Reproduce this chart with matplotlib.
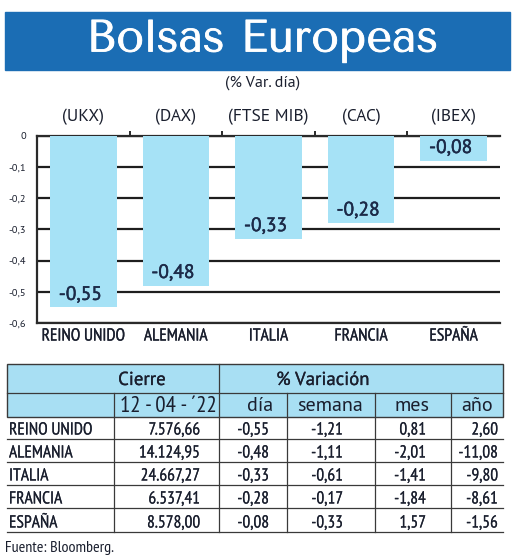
import matplotlib
matplotlib.use("Agg")
import matplotlib.pyplot as plt
from matplotlib.patches import Rectangle
import matplotlib.patheffects as pe

# ---------------- data ----------------
title = "Bolsas Europeas"
subtitle = "(% Var. día)"
countries = ["REINO UNIDO", "ALEMANIA", "ITALIA", "FRANCIA", "ESPAÑA"]
indices = ["(UKX)", "(DAX)", "(FTSE MIB)", "(CAC)", "(IBEX)"]
var_dia = [-0.55, -0.48, -0.33, -0.28, -0.08]
yticks = [0, -0.1, -0.2, -0.3, -0.4, -0.5, -0.6]
ytick_labels = ["0", "-0,1", "-0,2", "-0,3", "-0,4", "-0,5", "-0,6"]

cierre = ["7.576,66", "14.124,95", "24.667,27", "6.537,41", "8.578,00"]
dia = ["-0,55", "-0,48", "-0,33", "-0,28", "-0,08"]
semana = ["-1,21", "-1,11", "-0,61", "-0,17", "-0,33"]
mes = ["0,81", "-2,01", "-1,41", "-1,84", "1,57"]
anio = ["2,60", "-11,08", "-9,80", "-8,61", "-1,56"]
header1 = ["Cierre", "% Variación"]
header2 = ["12 - 04 - ´22", "día", "semana", "mes", "año"]
source = "Fuente: Bloomberg."

# ---------------- style ----------------
BAR = "#a6e2f6"
HEAD = "#a8dff3"
BANNER = "#1b6db4"
TXT = "#1a1f2e"
NAVY = "#1c2a48"
NARROW = ["PT Sans Narrow", "DejaVu Sans"]
SANS = ["PT Sans", "DejaVu Sans"]
TITLEF = ["Tenor Sans", "DejaVu Sans"]


def thick(w, c):
    return [pe.withStroke(linewidth=w, foreground=c)]


W, H = 520, 559
fig = plt.figure(figsize=(W / 100, H / 100), dpi=100)
fig.patch.set_facecolor("white")

# overlay in pixel coordinates
bg = fig.add_axes([0, 0, 1, 1])
bg.set_xlim(0, W)
bg.set_ylim(H, 0)
bg.axis("off")

bg.add_patch(Rectangle((5, 12), 505, 58, color=BANNER, zorder=1))
bg.text(262, 41, title, color="white", fontsize=32.5, family=TITLEF,
        ha="center", va="center", zorder=2, path_effects=thick(0.6, "white"))
bg.text(263, 83, subtitle, color=TXT, fontsize=11.5, family=SANS, ha="center", va="center")

# ---------------- bar chart ----------------
ax = fig.add_axes([37 / W, 1 - 323 / H, 463 / W, (323 - 135.5) / H])
x = list(range(len(countries)))
ax.bar(x, var_dia, width=0.72, color=BAR, zorder=3)
ax.set_xlim(-0.5, len(countries) - 0.5)
ax.set_ylim(-0.6, 0)
ax.set_yticks(yticks)
ax.set_yticklabels(ytick_labels, fontsize=7.5, family=SANS, color=TXT)
ax.yaxis.grid(True, color="#1e1e1e", lw=1.6)
ax.set_axisbelow(True)
ax.tick_params(axis="y", length=0, pad=8)
ax.set_xticks(x)
ax.set_xticklabels(countries, fontsize=12.5, family=NARROW, color=TXT)
for t in ax.get_xticklabels():
    t.set_path_effects(thick(0.2, TXT))
ax.tick_params(axis="x", length=0, pad=4)
for s in ["left", "bottom", "top"]:
    ax.spines[s].set_color("#2a2a2a")
    ax.spines[s].set_linewidth(1.6)
ax.spines["right"].set_visible(False)

top = ax.secondary_xaxis("top")
top.set_xticks([i + 0.5 for i in x[:-1]])
top.set_xticklabels([])
top.tick_params(length=3, width=1.4, color="#2a2a2a")
top.spines["top"].set_visible(False)

for i, (v, lab) in enumerate(zip(var_dia, indices)):
    ax.annotate(lab, xy=(i, 0), xytext=(0, 13.5), textcoords="offset points",
                ha="center", va="center", fontsize=12.5, family=SANS, color=TXT,
                annotation_clip=False)
    ax.annotate(f"{v:.2f}".replace(".", ","), xy=(i, v), xytext=(-2, 9),
                textcoords="offset points", ha="center", va="center",
                fontsize=14, family=SANS, color=NAVY, zorder=4,
                path_effects=thick(0.35, NAVY))

# ---------------- table ----------------
xl, xr = 7, 503
ytop, y1, y2 = 364, 393, 417
row_bottoms = [439, 462, 485, 508, 532]
col_edges = [7, 114, 219, 287, 375, 451, 503]
LC = "#3a3a3a"

bg.add_patch(Rectangle((xl, ytop), xr - xl, y2 - ytop, facecolor=HEAD,
                       edgecolor=LC, lw=1.0, zorder=1))
bg.plot([xl, xr], [y1, y1], color=LC, lw=0.9)
bg.plot([219, 219], [ytop, row_bottoms[-1]], color=LC, lw=0.9)
for xe in col_edges[1:-1]:
    if xe != 219:
        bg.plot([xe, xe], [y1, row_bottoms[-1]], color=LC, lw=0.9)
for yb in row_bottoms:
    bg.plot([xl, xr], [yb, yb], color=LC, lw=0.9)

bg.text(142, 380, header1[0], fontsize=13.5, family=SANS, color=TXT, ha="center",
        va="center", path_effects=thick(0.2, TXT))
bg.text(323, 380, header1[1], fontsize=13.5, family=SANS, color=TXT, ha="center",
        va="center", path_effects=thick(0.2, TXT))

h2_pos = [(217, "right"), (273, "right"), (330, "center"), (430, "right"), (493, "right")]
for k, (lab, (px, ha)) in enumerate(zip(header2, h2_pos)):
    fam = NARROW if k == 0 else SANS
    fs = 16.5 if k == 0 else 14.5
    bg.text(px, 406, lab, fontsize=fs, family=fam, color=TXT, ha=ha, va="center")

right_ends = [200, 269, 343, 426, 498]
cols = [cierre, dia, semana, mes, anio]
for r, name in enumerate(countries):
    yc = row_bottoms[r] - 8.5
    bg.text(9, yc, name, fontsize=12.5, family=NARROW, color=TXT, ha="left",
            va="center", path_effects=thick(0.12, TXT))
    for c, col in enumerate(cols):
        bg.text(right_ends[c], yc, col[r], fontsize=12.5, family=NARROW, color=TXT,
                ha="right", va="center", path_effects=thick(0.12, TXT))

bg.text(5, 548, source, fontsize=11.5, family=NARROW, color=TXT, ha="left", va="center")

fig.savefig("out.png", dpi=100, facecolor="white")
